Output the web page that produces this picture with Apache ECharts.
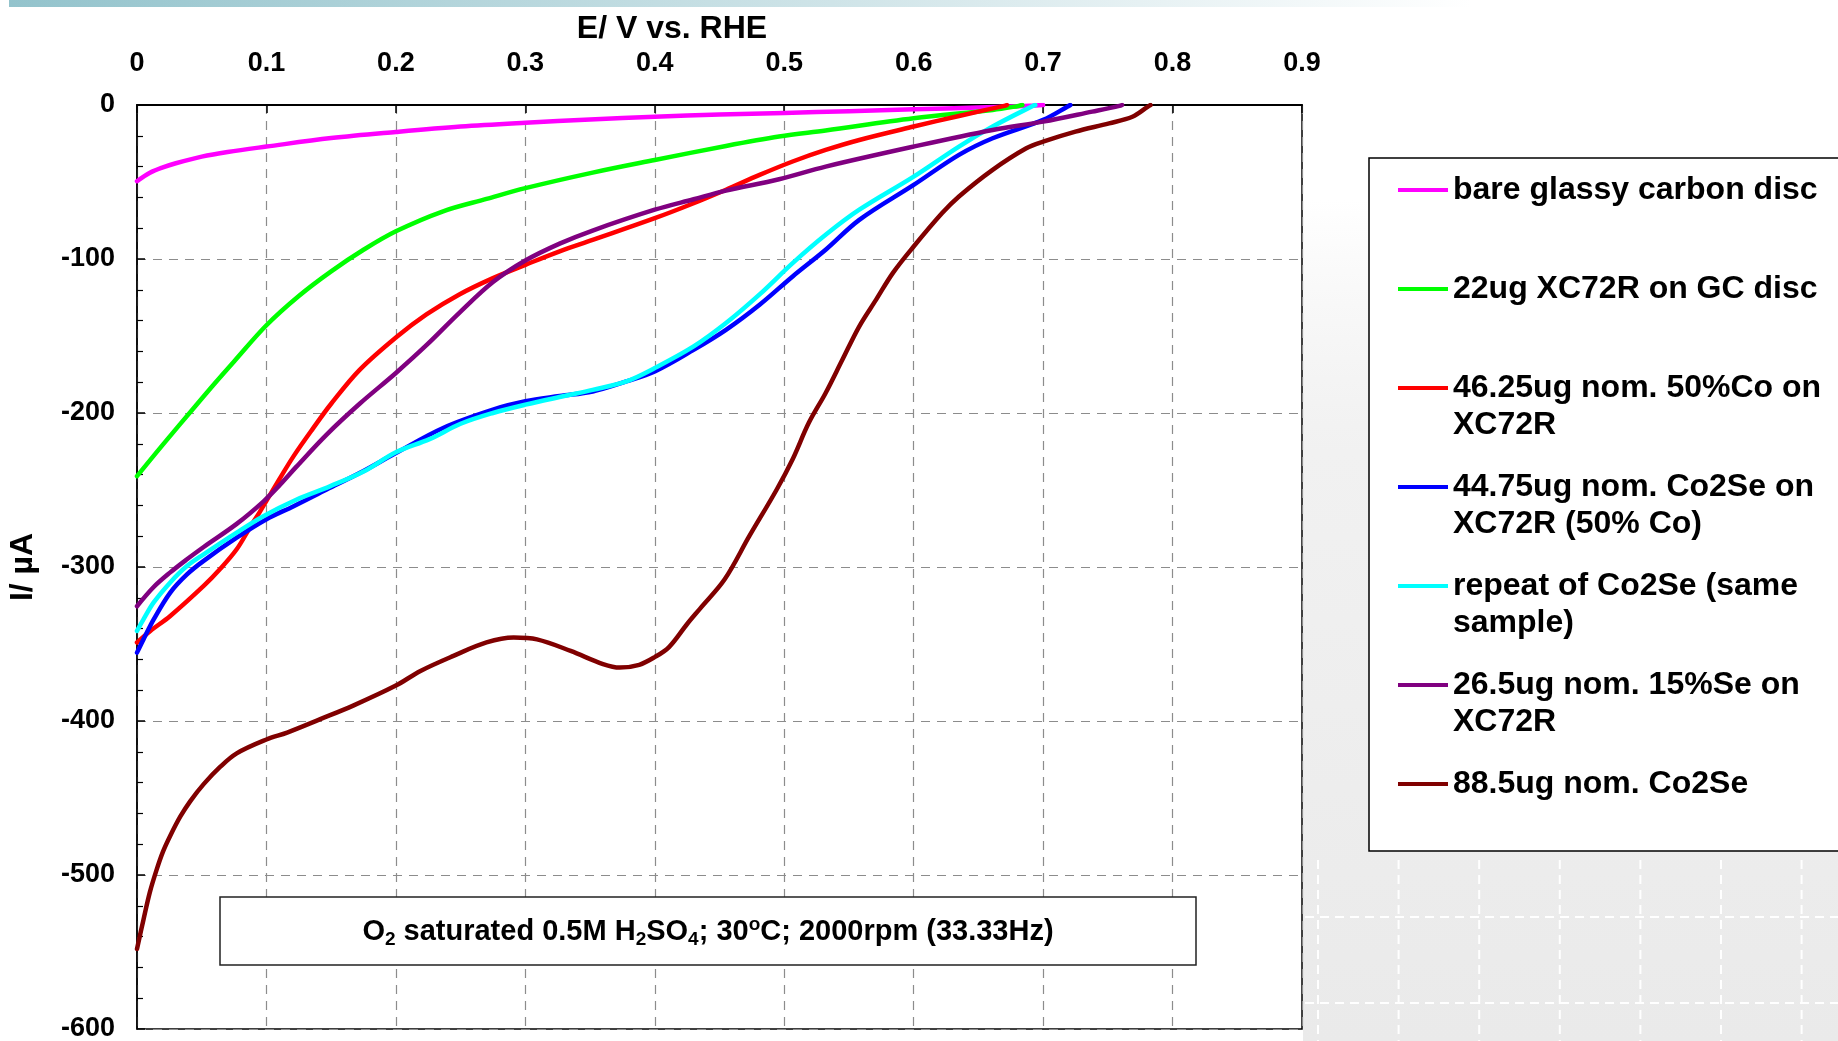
<!DOCTYPE html>
<html>
<head>
<meta charset="utf-8">
<title>ORR polarisation curves</title>
<script src="https://cdn.jsdelivr.net/npm/echarts@6/dist/echarts.min.js"></script>
<style>
  html, body { margin: 0; padding: 0; background: #fff; }
  #chartBox { width: 1838px; height: 1041px; }
</style>
</head>
<body>
<div id="chartBox"></div>
<script>
const FONT = '"Liberation Sans", Arial, Helvetica, sans-serif';

// [E / V vs. RHE, I / uA]
const bareGc = [[0,-49.5],[0.01,-44],[0.02,-40.5],[0.03,-37.8],[0.05,-33.5],[0.07,-30.5],[0.1,-27],[0.15,-21.5],[0.2,-17.5],[0.25,-14],[0.3,-11.5],[0.35,-9.4],[0.4,-7.6],[0.45,-6.2],[0.5,-5.2],[0.55,-4],[0.6,-2.8],[0.65,-1.6],[0.69,-0.5],[0.7,0]];
const xc72r = [[0,-241],[0.02,-220.5],[0.046,-194.6],[0.06,-180.8],[0.075,-166.5],[0.1,-143],[0.125,-124],[0.15,-108],[0.175,-94],[0.2,-82],[0.2365,-69],[0.27,-61],[0.3,-54],[0.352,-43.9],[0.4,-35.7],[0.455,-26.6],[0.496,-20.5],[0.532,-16.5],[0.6,-8.6],[0.661,-3.2],[0.681,-0.6],[0.684,0]];
const co50Xc72r = [[0,-349],[0.0103,-341.5],[0.0257,-331.8],[0.0515,-312.3],[0.064,-301.5],[0.077,-288.5],[0.0875,-274],[0.095,-264],[0.11,-243],[0.121,-228],[0.136,-210],[0.15,-194],[0.172,-172],[0.2,-151],[0.2236,-136],[0.249,-123],[0.275,-112.4],[0.3,-103.8],[0.3265,-95],[0.352,-87.6],[0.4,-73.5],[0.43,-63.8],[0.455,-55],[0.481,-45.4],[0.5065,-36.7],[0.532,-29.2],[0.558,-22.7],[0.6,-14],[0.635,-7.1],[0.67,-0.6],[0.672,0]];
const co2seXc72r = [[0,-355.6],[0.005,-347],[0.0129,-334],[0.0257,-316.6],[0.0386,-304.8],[0.0515,-296],[0.077,-281],[0.1,-269],[0.121,-260.5],[0.1465,-249.7],[0.172,-239],[0.2,-226],[0.2365,-209.7],[0.275,-197.8],[0.3,-192.4],[0.3265,-189],[0.352,-186],[0.378,-179.5],[0.4,-173],[0.43,-159],[0.455,-146],[0.481,-129.7],[0.5065,-111.3],[0.532,-94],[0.558,-74.6],[0.6,-51.9],[0.635,-32.4],[0.661,-21.6],[0.7,-9.7],[0.719,-1],[0.721,0]];
const co2seRepeat = [[0,-341.5],[0.005,-334],[0.0129,-323],[0.0257,-310],[0.0386,-299.4],[0.0515,-291.8],[0.077,-277.7],[0.0976,-267],[0.123,-256.3],[0.149,-247.6],[0.175,-238],[0.2,-225.5],[0.226,-217],[0.25,-207],[0.275,-200],[0.3,-194.6],[0.33,-189],[0.352,-185],[0.378,-179.5],[0.4,-170.8],[0.43,-156.8],[0.455,-141.6],[0.481,-123],[0.5065,-102.7],[0.532,-84.3],[0.558,-68],[0.6,-46.5],[0.635,-27],[0.661,-14],[0.692,-0.6],[0.694,0]];
const se15Xc72r = [[0,-325.5],[0.0129,-313],[0.0257,-303.5],[0.0386,-295],[0.0515,-287],[0.077,-272],[0.0976,-257.5],[0.11,-247],[0.123,-235],[0.1465,-214],[0.172,-194],[0.2,-174],[0.2236,-156],[0.249,-135],[0.275,-115],[0.3,-101],[0.3265,-90],[0.352,-81.5],[0.4,-68],[0.43,-61.2],[0.455,-55.6],[0.496,-48.2],[0.532,-40],[0.6,-27],[0.661,-16.2],[0.7,-10.8],[0.738,-4.3],[0.759,-0.6],[0.761,0]];
const co2se88 = [[0,-548],[0.005,-529],[0.01,-511],[0.015,-497],[0.02,-485],[0.0257,-474.5],[0.0335,-462],[0.0412,-452],[0.0515,-441],[0.064,-430],[0.077,-421],[0.1,-412],[0.116,-407.5],[0.1416,-398.8],[0.167,-390],[0.2,-377],[0.219,-367.5],[0.2445,-357.7],[0.27,-349],[0.291,-345.8],[0.309,-347],[0.335,-354.5],[0.36,-363],[0.373,-365.3],[0.388,-363.5],[0.4,-358.5],[0.411,-352],[0.425,-337],[0.435,-327],[0.454,-308],[0.473,-280],[0.494,-250],[0.5065,-230],[0.519,-206.4],[0.532,-187],[0.545,-165.3],[0.558,-143.7],[0.571,-126.4],[0.584,-109],[0.6,-91.9],[0.622,-70.2],[0.635,-59.4],[0.661,-42.1],[0.687,-28.1],[0.7,-23.8],[0.725,-17.3],[0.751,-11.9],[0.769,-7.6],[0.781,-1],[0.783,0]];

const seriesData = [bareGc, xc72r, co50Xc72r, co2seXc72r, co2seRepeat, se15Xc72r, co2se88];
const seriesNames = [
  'bare glassy carbon disc',
  '22ug XC72R on GC disc',
  '46.25ug nom. 50%Co on XC72R',
  '44.75ug nom. Co2Se on XC72R (50% Co)',
  'repeat of Co2Se (same sample)',
  '26.5ug nom. 15%Se on XC72R',
  '88.5ug nom. Co2Se'
];
const legendText = [
  'bare glassy carbon disc',
  '22ug XC72R on GC disc',
  '46.25ug nom. 50%Co on\nXC72R',
  '44.75ug nom. Co2Se on\nXC72R (50% Co)',
  'repeat of Co2Se (same\nsample)',
  '26.5ug nom. 15%Se on\nXC72R',
  '88.5ug nom. Co2Se'
];
const seriesColors = ['#ff00ff', '#00ff00', '#ff0000', '#0000ff', '#00ffff', '#800080', '#800000'];

const xMin = 0, xMax = 0.9, xStep = 0.1;
const yMin = -600, yMax = 0, yStep = 100;

// legend slots, one legend per entry so the icon sits on the first text line
const LINE_H = 37;
const legendIconY = [190, 289, 388, 487, 586, 685, 784];
const legends = seriesNames.map((name, i) => {
  const twoLines = legendText[i].indexOf('\n') >= 0;
  const h = twoLines ? 3 * LINE_H : LINE_H;
  return {
    left: 1398,
    top: legendIconY[i] - h / 2,
    padding: 0,
    data: [name],
    icon: 'rect',
    itemWidth: 50,
    itemHeight: 4,
    selectedMode: false,
    formatter: () => (twoLines ? '\n' : '') + legendText[i],
    textStyle: { fontFamily: FONT, fontSize: 32, fontWeight: 'bold', color: '#000', lineHeight: LINE_H }
  };
});

// faint white grid of the slide background, bottom right
const bgLines = [];
for (let k = 0; k < 7; k++) {
  const x = 1318 + k * 80.6;
  bgLines.push({ type: 'line', z: 0, silent: true, shape: { x1: x, y1: 860, x2: x, y2: 1041 },
    style: { stroke: '#ffffff', lineWidth: 2, lineDash: [9, 6] } });
}
[917, 1003].forEach(y => bgLines.push({ type: 'line', z: 0, silent: true,
  shape: { x1: 1305, y1: y, x2: 1838, y2: y }, style: { stroke: '#ffffff', lineWidth: 2, lineDash: [9, 6] } }));

let option = {
  backgroundColor: '#ffffff',
  animation: false,
  textStyle: { fontFamily: FONT },
  grid: {
    left: 137, top: 105, right: 536, bottom: 12,
    show: true, backgroundColor: '#ffffff', borderColor: '#000', borderWidth: 1.5,
    outerBoundsMode: 'none'
  },
  legend: legends,
  xAxis: {
    type: 'value', position: 'top',
    min: xMin, max: xMax, interval: xStep,
    name: 'E/ V vs. RHE', nameLocation: 'middle', nameGap: 58,
    nameTextStyle: { fontFamily: FONT, fontSize: 32, fontWeight: 'bold', color: '#000', padding: [0, 95, 0, 0] },
    axisLine: { show: true, lineStyle: { color: '#000', width: 2 } },
    axisTick: { show: true, inside: true, length: 8, lineStyle: { color: '#000', width: 1.5 } },
    axisLabel: {
      margin: 28, fontFamily: FONT, fontSize: 27, fontWeight: 'bold', color: '#000',
      formatter: v => v === 0 ? '0' : v.toFixed(1)
    },
    splitLine: { show: true, lineStyle: { color: '#8c8c8c', width: 1.2, type: [9, 7] } }
  },
  yAxis: {
    type: 'value',
    min: yMin, max: yMax, interval: yStep,
    name: 'I/ µA', nameLocation: 'middle', nameRotate: 90, nameGap: 98,
    nameTextStyle: { fontFamily: FONT, fontSize: 32, fontWeight: 'bold', color: '#000' },
    axisLine: { show: true, lineStyle: { color: '#000', width: 1.5 } },
    axisTick: { show: true, inside: true, length: 8, lineStyle: { color: '#000', width: 1.5 } },
    minorTick: { show: true, splitNumber: 5, length: 6, lineStyle: { color: '#000', width: 1.2 } },
    axisLabel: { margin: 22, fontFamily: FONT, fontSize: 27, fontWeight: 'bold', color: '#000' },
    splitLine: { show: true, lineStyle: { color: '#8c8c8c', width: 1.2, type: [9, 7] } }
  },
  graphic: [
    { type: 'rect', z: 0, silent: true, shape: { x: 9, y: 0, width: 1829, height: 7 },
      style: { fill: new echarts.graphic.LinearGradient(0, 0, 1, 0, [
        { offset: 0, color: '#93c3cc' }, { offset: 0.45, color: '#cfe4e8' }, { offset: 0.8, color: '#ffffff' }]) } },
    { type: 'rect', z: 0, silent: true, shape: { x: 1303, y: 200, width: 535, height: 841 },
      style: { fill: new echarts.graphic.LinearGradient(0, 0, 0, 1, [
        { offset: 0, color: 'rgba(236,236,236,0)' }, { offset: 0.3, color: '#f1f1f1' }, { offset: 1, color: '#eaeaea' }]) } },
    ...bgLines,
    { type: 'rect', z: 1, silent: true, shape: { x: 1369, y: 158, width: 480, height: 693 },
      style: { fill: '#ffffff', stroke: '#000', lineWidth: 1.5 } },
    { type: 'rect', z: 10, silent: true, shape: { x: 220, y: 897, width: 976, height: 68 },
      style: { fill: '#ffffff', stroke: '#222', lineWidth: 1.5 } },
    { type: 'text', z: 11, silent: true, x: 708, y: 932,
      style: {
        text: 'O{sub|2} saturated 0.5M H{sub|2}SO{sub|4}; 30{sup|o}C; 2000rpm (33.33Hz)',
        align: 'center', verticalAlign: 'middle',
        fontFamily: FONT, fontSize: 29, fontWeight: 'bold', fill: '#000', lineHeight: 34,
        rich: {
          sub: { fontFamily: FONT, fontSize: 19, fontWeight: 'bold', verticalAlign: 'bottom', lineHeight: 18 },
          sup: { fontFamily: FONT, fontSize: 19, fontWeight: 'bold', verticalAlign: 'top', lineHeight: 18 }
        }
      } }
  ],
  series: seriesNames.map((name, i) => ({
    name: name,
    type: 'line',
    data: seriesData[i],
    symbol: 'none',
    showSymbol: false,
    smooth: 0.35,
    color: seriesColors[i],
    lineStyle: { width: 4.5, color: seriesColors[i], join: 'round', cap: 'round' },
    emphasis: { disabled: true }
  }))
};

const myChart = echarts.init(document.getElementById('chartBox'));
myChart.setOption(option);
</script>
</body>
</html>
